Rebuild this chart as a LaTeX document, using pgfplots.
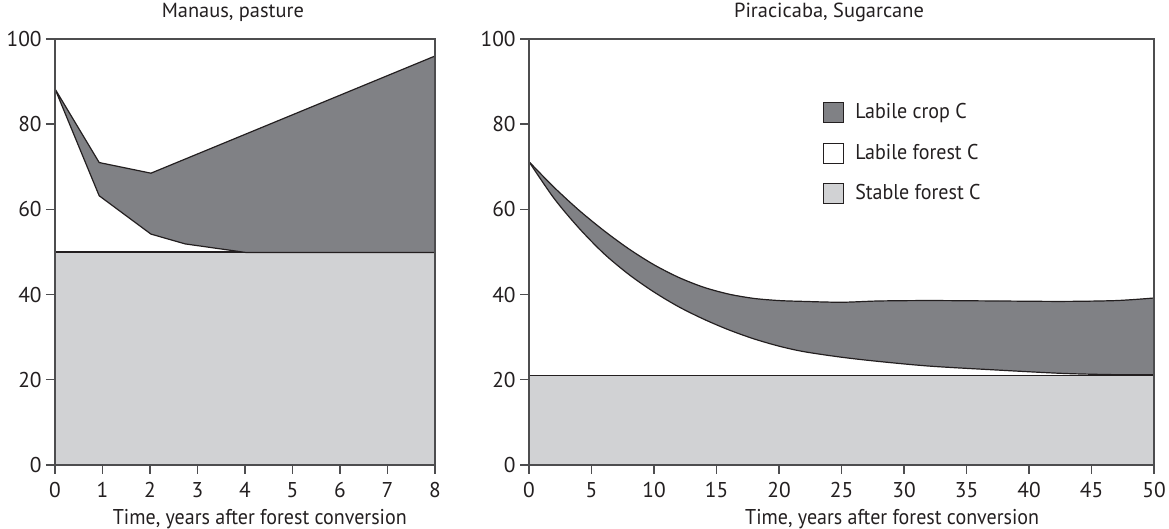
\documentclass[border=0pt]{standalone}
\usepackage{fontspec}
\setmainfont{PT Sans}
\newfontfamily\labfont{PT Sans}[FakeStretch=0.935]
\usepackage{pgfplots}
\usepackage{pgfplotstable}
\pgfplotsset{compat=1.18}
\definecolor{cropC}{HTML}{808185}
\definecolor{stableC}{HTML}{D1D2D4}
\definecolor{lineC}{HTML}{231F20}
\definecolor{axisC}{HTML}{4D4D4F}
% Piracicaba upper and lower curves
\pgfplotstableread{
x y
0 71.2
2 65.2
4 59.8
6 55.0
8 50.7
10 47.0
12 44.0
14 41.7
16 40.1
18 39.1
20 38.6
22 38.4
25 38.2
28 38.5
32.1 38.6
37.4 38.5
42.7 38.4
47.0 38.6
50 39.2
}\pirUp
\pgfplotstableread{
x y
0 71.2
2 62.6
4 55.6
6 49.6
8 44.7
10 40.6
12 37.1
14 34.2
16 31.7
18 29.6
20 27.9
22 26.6
25 25.3
28 24.3
32.1 23.2
37.4 22.3
42.7 21.5
47.0 21.2
50 21.2
}\pirLo
\pgfplotsset{
  myaxis/.style={
    scale only axis, height=213pt, ymin=0, ymax=100, ytick={0,20,...,100},
    axis line style={axisC, line width=0.9pt},
    tick align=outside, major tick length=4.5pt,
    tick style={axisC, line width=0.7pt},
    xtick pos=bottom, ytick pos=left,
    /pgf/number format/assume math mode=true,
    tick label style={font=\fontsize{10.7}{12}\selectfont, text=lineC},
    xticklabel style={inner sep=0pt, anchor=base, yshift=-12pt},
    yticklabel style={inner sep=0pt, anchor=east, xshift=-2pt},
    label style={font=\labfont\fontsize{10.7}{12}\selectfont, text=lineC},
    title style={font=\fontsize{10.2}{12}\selectfont, text=lineC, anchor=base, inner sep=0pt},
    axis on top,
  }
}
\begin{document}
\begin{tikzpicture}
\useasboundingbox (0,0) rectangle (584.5pt,264.5pt);
% Left panel
\begin{axis}[myaxis, at={(27.5pt,32pt)}, anchor=south west, width=190pt,
  xmin=0, xmax=8, xtick={0,1,...,8},
  title={Manaus, pasture}, title style={at={(axis description cs:0.468,1)}, yshift=4.5pt},
  xlabel={Time, years after forest conversion},
  xlabel style={at={(axis description cs:0.539,0)}, anchor=base, inner sep=0pt, yshift=-30pt}]
\addplot[fill=stableC, draw=none] coordinates {(0,0) (8,0) (8,50) (0,50)} -- cycle;
\addplot[lineC, line width=0.6pt] coordinates {(0,50) (8,50)};
\addplot[fill=cropC, draw=lineC, line width=0.6pt] coordinates {
 (0,88.3) (0.93,71.0) (2.02,68.5) (8,96.0)
 (8,49.9) (4.01,49.9) (2.74,51.9) (2.02,54.2) (0.93,63.2) (0,88.3)} -- cycle;
\end{axis}
% Right panel
\begin{axis}[myaxis, at={(264.5pt,32pt)}, anchor=south west, width=312.5pt,
  xmin=0, xmax=50, xtick={0,5,...,50},
  title={Piracicaba, Sugarcane}, title style={at={(axis description cs:0.48,1)}, yshift=4.5pt},
  xlabel={Time, years after forest conversion},
  xlabel style={at={(axis description cs:0.581,0)}, anchor=base, inner sep=0pt, yshift=-30pt},
  legend image code/.code={\draw[#1, draw=lineC, line width=0.5pt] (0pt,-5pt) rectangle (10pt,5pt);},
  legend style={at={(axis cs:23.54,85.14)}, anchor=north west, draw=none, fill=none,
    inner sep=0pt, outer sep=0pt, row sep=9.7pt,
    nodes={inner sep=0pt, font=\labfont\fontsize{10.7}{12}\selectfont, text=lineC},
    /tikz/every odd column/.append style={column sep=5.5pt}},
  legend cell align=left]
\addplot[fill=stableC, draw=none, forget plot] coordinates {(0,0) (50,0) (50,21.1) (0,21.1)} -- cycle;
\addplot[lineC, line width=0.6pt, forget plot] coordinates {(0,21.1) (50,21.1)};
\addplot[fill=cropC, draw=none, forget plot] coordinates {
 (0,71.2) (2,65.2) (4,59.8) (6,55.0) (8,50.7) (10,47.0) (12,44.0) (14,41.7) (16,40.1)
 (18,39.1) (20,38.6) (22,38.4) (25,38.2) (28,38.5) (32.1,38.6) (37.4,38.5)
 (42.7,38.4) (47.0,38.6) (50,39.2)
 (50,21.2) (47.0,21.2) (42.7,21.5) (37.4,22.3) (32.1,23.2) (28,24.3) (25,25.3)
 (22,26.6) (20,27.9) (18,29.6) (16,31.7) (14,34.2) (12,37.1) (10,40.6) (8,44.7)
 (6,49.6) (4,55.6) (2,62.6) (0,71.2)} -- cycle;
\addplot[lineC, line width=0.6pt, smooth, forget plot] table {\pirUp};
\addplot[lineC, line width=0.6pt, smooth, forget plot] table {\pirLo};
\addplot[lineC, line width=0.6pt, forget plot] coordinates {(50,21.2) (50,39.2)};
\addlegendimage{fill=cropC}
\addlegendentry{Labile crop C}
\addlegendimage{fill=white}
\addlegendentry{Labile forest C}
\addlegendimage{fill=stableC}
\addlegendentry{Stable forest C}
\end{axis}
\end{tikzpicture}
\end{document}
